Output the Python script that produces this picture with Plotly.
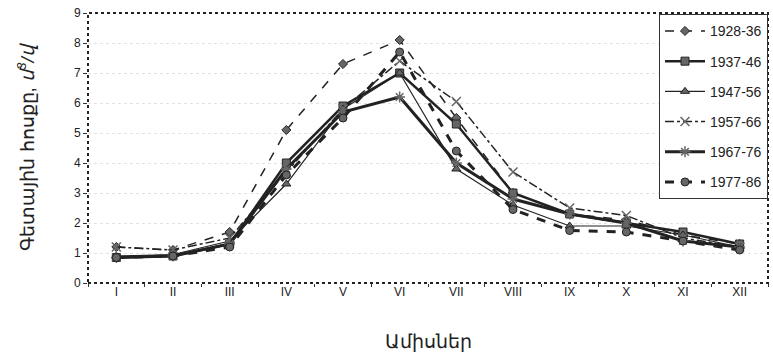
import plotly.graph_objects as go

months = ["I", "II", "III", "IV", "V", "VI", "VII", "VIII", "IX", "X", "XI", "XII"]
s1928 = [1.2, 1.1, 1.7, 5.1, 7.3, 8.1, 5.5, 3.0, 2.3, 2.1, 1.6, 1.3]
s1937 = [0.85, 0.9, 1.3, 4.0, 5.9, 7.0, 5.3, 3.0, 2.3, 2.0, 1.7, 1.3]
s1947 = [0.9, 0.95, 1.4, 3.3, 5.8, 7.0, 3.8, 2.6, 1.9, 1.9, 1.6, 1.2]
s1957 = [1.2, 1.1, 1.5, 3.7, 5.8, 7.4, 6.05, 3.7, 2.5, 2.25, 1.5, 1.2]
s1967 = [0.85, 0.9, 1.3, 3.8, 5.7, 6.2, 4.0, 2.8, 2.3, 2.0, 1.4, 1.2]
s1977 = [0.85, 0.9, 1.2, 3.6, 5.5, 7.7, 4.4, 2.45, 1.75, 1.7, 1.4, 1.1]

series = [
    ("1928-36", s1928, dict(dash="dash", width=1.5), dict(symbol="diamond", size=7)),
    ("1937-46", s1937, dict(dash="solid", width=2.5), dict(symbol="square", size=8)),
    ("1947-56", s1947, dict(dash="solid", width=1.2), dict(symbol="triangle-up", size=8)),
    ("1957-66", s1957, dict(dash="dashdot", width=1.5), dict(symbol="x-thin-open", size=9, line=dict(width=1.5, color="#333"))),
    ("1967-76", s1967, dict(dash="solid", width=3), dict(symbol="asterisk-open", size=9, line=dict(width=1.5, color="#333"))),
    ("1977-86", s1977, dict(dash="dash", width=3), dict(symbol="circle", size=8)),
]

fig = go.Figure()
for i, (name, vals, ln, mk) in enumerate(series):
    mk = dict(mk)
    mk.setdefault("color", "#666666")
    if "line" not in mk:
        mk["line"] = dict(width=1, color="#222")
    fig.add_trace(go.Scatter(
        x=months, y=vals, name=name, mode="lines+markers",
        line=dict(color="#222222", **ln), marker=mk,
        legendgroup=f"g{i}",
    ))

fig.add_shape(type="rect", xref="paper", yref="paper", x0=0, x1=1, y0=0, y1=1,
              line=dict(color="#222", width=2, dash="dot"), layer="above")

fig.update_layout(
    width=773, height=358,
    margin=dict(l=88, r=5, t=13, b=75),
    paper_bgcolor="white", plot_bgcolor="white",
    font=dict(family="Liberation Sans, Arial, sans-serif", color="#222", size=12),
    showlegend=True,
    legend=dict(
        x=1, xanchor="right", y=0.995, yanchor="top",
        bordercolor="#333", borderwidth=1, bgcolor="white",
        font=dict(size=14), traceorder="grouped", tracegroupgap=9,
        itemwidth=40,
    ),
    xaxis=dict(
        range=[-0.5, 11.5], showgrid=False,
        showline=False,
        ticks="outside", ticklen=3, tickcolor="#333", tickson="boundaries",
        title=dict(text="Ամիսներ", font=dict(size=19), standoff=36),
        tickfont=dict(size=12),
    ),
    yaxis=dict(
        range=[0, 9], dtick=1,
        showgrid=True, gridcolor="#e2e2e2", griddash="dot", gridwidth=1,
        showline=False,
        ticks="outside", ticklen=4, tickcolor="#333",
        zeroline=False,
        title=dict(text="Գետային հոսքը, <i>մ<sup>3</sup>/վ</i>", font=dict(size=19), standoff=34),
        tickfont=dict(size=12),
    ),
)
fig.write_html("out.html")
